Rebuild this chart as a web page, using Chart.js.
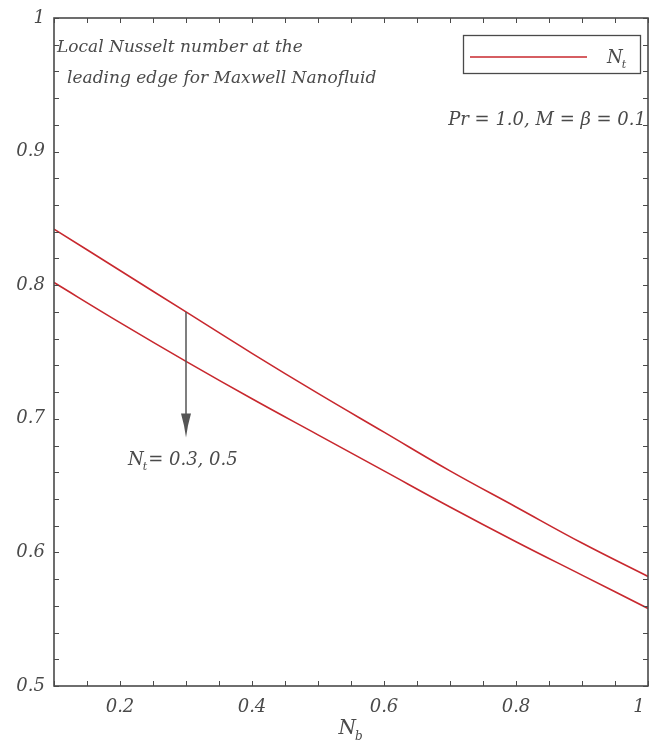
<!DOCTYPE html>
<html>
<head>
<meta charset="utf-8">
<script src="https://cdn.jsdelivr.net/npm/chart.js@4.4.1/dist/chart.umd.min.js"></script>
<style>
  body { margin: 0; background: #fff; }
  #box { width: 651px; height: 746px; }
</style>
</head>
<body>
<div id="box"><canvas id="nusselt" width="651" height="746"></canvas></div>
<script>
// N_b values along the x axis
const nbValues = [0.1, 0.2, 0.3, 0.4, 0.5, 0.6, 0.7, 0.8, 0.9, 1.0]
// local Nusselt number, N_t = 0.3 (upper) and N_t = 0.5 (lower)
const nuNt03 = [0.842, 0.811, 0.780, 0.749, 0.719, 0.690, 0.661, 0.634, 0.607, 0.582]
const nuNt05 = [0.802, 0.772, 0.743, 0.715, 0.688, 0.661, 0.634, 0.608, 0.583, 0.558]
const xTickLabels = [0.2, 0.4, 0.6, 0.8, 1]
const yTickLabels = [0.5, 0.6, 0.7, 0.8, 0.9, 1]
// arrow: at N_b = 0.3, from upper curve down to ~0.686
const arrowX = 0.3
const arrowFrom = 0.780
const arrowTo = 0.686

const FONT = '"DejaVu Serif", serif'
const RED = '#c8282e'
const INK = '#4a4a4a'

function toPoints(ys) {
    return nbValues.map((x, i) => ({ x: x, y: ys[i] }))
}

function near(v, list) {
    return list.some(l => Math.abs(l - v) < 1e-6)
}

// text with a subscript, e.g. N with subscript b
function subText(ctx, main, sub, rest, x, y, size, align) {
    ctx.font = 'italic ' + size + 'px ' + FONT
    let w1 = ctx.measureText(main).width
    ctx.font = 'italic ' + Math.round(size * 0.62) + 'px ' + FONT
    let w2 = ctx.measureText(sub).width
    ctx.font = 'italic ' + size + 'px ' + FONT
    let w3 = ctx.measureText(rest).width
    let total = w1 + w2 + w3
    let left = x
    if (align === 'center') left = x - total / 2
    if (align === 'right') left = x - total
    ctx.textAlign = 'left'
    ctx.textBaseline = 'alphabetic'
    ctx.fillText(main, left, y)
    ctx.font = 'italic ' + Math.round(size * 0.62) + 'px ' + FONT
    ctx.fillText(sub, left + w1 - 1, y + size * 0.28)
    ctx.font = 'italic ' + size + 'px ' + FONT
    ctx.fillText(rest, left + w1 + w2, y)
}

const decor = {
    id: 'decor',
    afterDraw(chart) {
        const ctx = chart.ctx
        const a = chart.chartArea
        const xs = chart.scales.x
        const ys = chart.scales.y
        ctx.save()

        // inward ticks on all four sides
        ctx.strokeStyle = INK
        ctx.lineWidth = 1
        ctx.beginPath()
        xs.ticks.forEach(t => {
            let px = Math.round(xs.getPixelForValue(t.value)) + 0.5
            ctx.moveTo(px, a.bottom); ctx.lineTo(px, a.bottom - 5)
            ctx.moveTo(px, a.top); ctx.lineTo(px, a.top + 5)
        })
        ys.ticks.forEach(t => {
            let py = Math.round(ys.getPixelForValue(t.value)) + 0.5
            ctx.moveTo(a.left, py); ctx.lineTo(a.left + 5, py)
            ctx.moveTo(a.right, py); ctx.lineTo(a.right - 5, py)
        })
        ctx.stroke()

        // frame
        ctx.lineWidth = 1.6
        ctx.strokeRect(a.left, a.top, a.right - a.left, a.bottom - a.top)

        // arrow
        let ax = xs.getPixelForValue(arrowX)
        let y0 = ys.getPixelForValue(arrowFrom)
        let y1 = ys.getPixelForValue(arrowTo)
        ctx.strokeStyle = '#555'
        ctx.fillStyle = '#555'
        ctx.lineWidth = 1.5
        ctx.beginPath()
        ctx.moveTo(ax, y0); ctx.lineTo(ax, y1 - 20)
        ctx.stroke()
        ctx.beginPath()
        ctx.moveTo(ax - 5, y1 - 24)
        ctx.lineTo(ax + 5, y1 - 24)
        ctx.lineTo(ax + 2, y1 - 12)
        ctx.lineTo(ax, y1)
        ctx.lineTo(ax - 2, y1 - 12)
        ctx.closePath()
        ctx.fill()

        ctx.fillStyle = INK
        subText(ctx, 'N', 't', '= 0.3, 0.5', 128, 465, 18, 'left')

        // annotations
        ctx.font = 'italic 17px ' + FONT
        ctx.textAlign = 'left'
        ctx.textBaseline = 'middle'
        ctx.fillText('Local Nusselt number at the', 57, 48)
        ctx.fillText('leading edge for Maxwell Nanofluid', 67, 79)
        ctx.font = 'italic 18px ' + FONT
        ctx.textAlign = 'right'
        ctx.fillText('Pr = 1.0, M = \u03b2 = 0.1', 646, 120)

        // legend
        ctx.strokeStyle = INK
        ctx.lineWidth = 1.3
        ctx.strokeRect(463.5, 35.5, 177, 38)
        ctx.strokeStyle = RED
        ctx.lineWidth = 1.6
        ctx.beginPath()
        ctx.moveTo(470, 57); ctx.lineTo(587, 57)
        ctx.stroke()
        ctx.fillStyle = INK
        subText(ctx, 'N', 't', '', 607, 63, 18, 'left')

        // x axis title
        subText(ctx, 'N', 'b', '', (a.left + a.right) / 2, 734, 20, 'center')
        ctx.restore()
    }
}

new Chart('nusselt', {
    type: 'line',
    data: {
        datasets: [{
            label: 'Nt = 0.3',
            data: toPoints(nuNt03),
            borderColor: RED,
            borderWidth: 1.6,
            pointRadius: 0,
            tension: 0.4,
        }, {
            label: 'Nt = 0.5',
            data: toPoints(nuNt05),
            borderColor: RED,
            borderWidth: 1.6,
            pointRadius: 0,
            tension: 0.4,
        }]
    },
    options: {
        responsive: false,
        animation: false,
        layout: { padding: { left: 0, right: 3, top: 18, bottom: 0 } },
        plugins: {
            legend: { display: false },
            tooltip: { enabled: false },
        },
        scales: {
            x: {
                type: 'linear',
                min: 0.1,
                max: 1,
                border: { display: false },
                grid: { display: false, drawTicks: false },
                ticks: {
                    stepSize: 0.05,
                    autoSkip: false,
                    maxRotation: 0,
                    padding: 11,
                    color: INK,
                    font: { family: FONT, style: 'italic', size: 18 },
                    // last label padded so it stays inside the canvas
                    callback: v => {
                        if (!near(v, xTickLabels)) return ''
                        let s = String(Math.round(v * 10) / 10)
                        return v > 0.99 ? s + '\u2003' : s
                    },
                },
                afterFit: s => {
                    s.height = 60
                    s.paddingLeft = 0
                    s.paddingRight = 0
                },
            },
            y: {
                min: 0.5,
                max: 1,
                border: { display: false },
                grid: { display: false, drawTicks: false },
                ticks: {
                    stepSize: 0.02,
                    autoSkip: false,
                    padding: 9,
                    color: INK,
                    font: { family: FONT, style: 'italic', size: 18 },
                    callback: v => near(v, yTickLabels) ? String(Math.round(v * 10) / 10) : '',
                },
                afterFit: s => {
                    s.width = 54
                    s.paddingTop = 0
                    s.paddingBottom = 0
                },
            }
        }
    },
    plugins: [decor]
})
</script>
</body>
</html>
